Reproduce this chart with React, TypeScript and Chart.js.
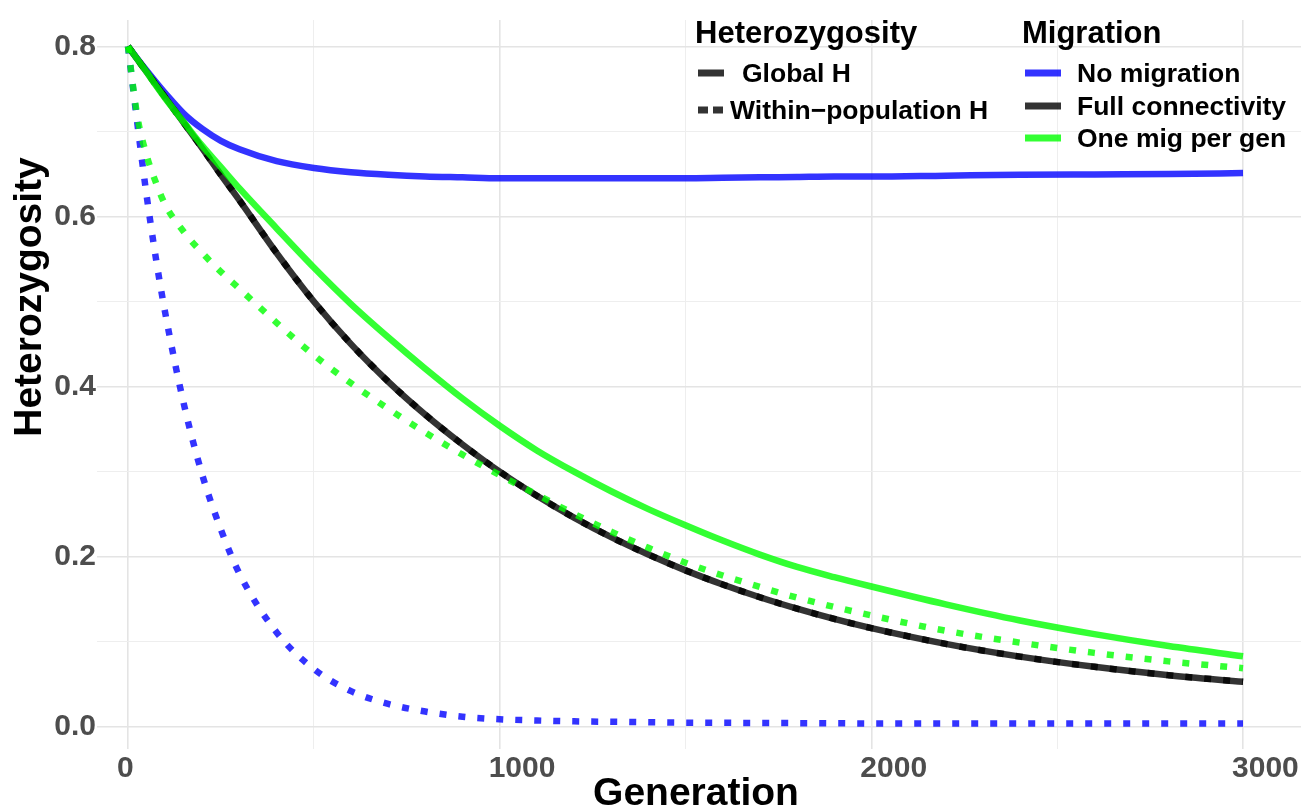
import React, { useEffect, useRef } from "react";
import { Chart, registerables } from "chart.js";

Chart.register(...registerables);

// ---- data ----
const GENERATIONS = [0, 25, 50, 75, 100, 150, 200, 250, 300, 400, 500, 600, 700, 800, 900, 1000, 1100, 1200, 1300, 1400, 1500, 1600, 1700, 1800, 1900, 2000, 2200, 2400, 2600, 2800, 3000];

const NO_MIG_GLOBAL = [0.8, 0.7855, 0.7715, 0.758, 0.745, 0.721, 0.703, 0.689, 0.679, 0.665, 0.657, 0.652, 0.649, 0.647, 0.646, 0.645, 0.645, 0.645, 0.645, 0.645, 0.645, 0.6455, 0.646, 0.6465, 0.647, 0.647, 0.648, 0.649, 0.6495, 0.65, 0.651];
const NO_MIG_WITHIN = [0.8, 0.71, 0.625, 0.551, 0.487, 0.38, 0.296, 0.232, 0.18, 0.111, 0.068, 0.042, 0.027, 0.018, 0.012, 0.009, 0.0075, 0.0065, 0.006, 0.0055, 0.005, 0.0048, 0.0046, 0.0044, 0.0042, 0.004, 0.004, 0.004, 0.004, 0.004, 0.004];
const FULL_GLOBAL = [0.8, 0.785, 0.77, 0.755, 0.74, 0.71, 0.68, 0.649, 0.619, 0.557, 0.5, 0.45, 0.406, 0.367, 0.332, 0.3, 0.2716, 0.246, 0.223, 0.2026, 0.184, 0.1674, 0.1524, 0.139, 0.1269, 0.1161, 0.0976, 0.0826, 0.0706, 0.0608, 0.053];
const FULL_WITHIN = [0.8, 0.785, 0.77, 0.755, 0.74, 0.71, 0.68, 0.649, 0.619, 0.557, 0.5, 0.45, 0.406, 0.367, 0.332, 0.3, 0.2716, 0.246, 0.223, 0.2026, 0.184, 0.1674, 0.1524, 0.139, 0.1269, 0.1161, 0.0976, 0.0826, 0.0706, 0.0608, 0.053];
const ONE_MIG_GLOBAL = [0.8, 0.785, 0.77, 0.754, 0.739, 0.711, 0.683, 0.658, 0.633, 0.586, 0.54, 0.497, 0.458, 0.421, 0.386, 0.354, 0.325, 0.3, 0.277, 0.256, 0.237, 0.219, 0.2025, 0.188, 0.176, 0.165, 0.144, 0.125, 0.109, 0.095, 0.083];
const ONE_MIG_WITHIN = [0.8, 0.718, 0.672, 0.64, 0.614, 0.582, 0.557, 0.535, 0.515, 0.475, 0.437, 0.404, 0.374, 0.346, 0.32, 0.296, 0.273, 0.2505, 0.2295, 0.2105, 0.193, 0.178, 0.1645, 0.152, 0.141, 0.131, 0.113, 0.099, 0.087, 0.077, 0.069];

const X_GRID = [0, 500, 1000, 1500, 2000, 2500, 3000];
const X_LABELS = [0, 1000, 2000, 3000];
const Y_GRID = [0, 0.1, 0.2, 0.3, 0.4, 0.5, 0.6, 0.7, 0.8];
const Y_LABELS = [0, 0.2, 0.4, 0.6, 0.8];

const HET_LEGEND = ["Global H", "Within\u2212population H"];
const MIG_LEGEND = ["No migration", "Full connectivity", "One mig per gen"];

// ---- styles ----
const BLUE = "rgba(0,0,255,0.8)";
const BLACK = "rgba(0,0,0,0.8)";
const GREEN = "rgba(0,255,0,0.8)";
const FONT = "'Liberation Sans', Arial, Helvetica, sans-serif";
const DOT = [7, 12];
const LW = 6.5;

const isIn = (arr: number[], v: number) => arr.some((a) => Math.abs(a - v) < 1e-6);

const overlay = {
  id: "overlay",
  afterDraw(chart: any) {
    const ctx = chart.ctx as CanvasRenderingContext2D;
    ctx.save();
    // axis titles
    ctx.fillStyle = "#000";
    ctx.font = `bold 39px ${FONT}`;
    ctx.textAlign = "center";
    ctx.textBaseline = "alphabetic";
    ctx.fillText("Generation", 696, 805);
    ctx.save();
    ctx.translate(41, 297);
    ctx.rotate(-Math.PI / 2);
    ctx.fillText("Heterozygosity", 0, 0);
    ctx.restore();

    // legend titles
    ctx.textAlign = "left";
    ctx.font = `bold 31px ${FONT}`;
    ctx.fillText("Heterozygosity", 695, 43);
    ctx.fillText("Migration", 1022, 43);

    // legend: heterozygosity (linetype)
    ctx.font = `bold 26.5px ${FONT}`;
    ctx.lineCap = "butt";
    ctx.lineWidth = 7;
    ctx.strokeStyle = BLACK;
    ctx.setLineDash([]);
    ctx.beginPath();
    ctx.moveTo(698, 73);
    ctx.lineTo(724, 73);
    ctx.stroke();
    ctx.fillText(HET_LEGEND[0], 742, 82);
    ctx.setLineDash([10, 5]);
    ctx.beginPath();
    ctx.moveTo(698, 110);
    ctx.lineTo(723, 110);
    ctx.stroke();
    ctx.setLineDash([]);
    ctx.fillText(HET_LEGEND[1], 730, 119);

    // legend: migration (colour)
    const cols = [BLUE, BLACK, GREEN];
    const ys = [73, 106, 138];
    MIG_LEGEND.forEach((lab, i) => {
      ctx.strokeStyle = cols[i];
      ctx.beginPath();
      ctx.moveTo(1025, ys[i]);
      ctx.lineTo(1061, ys[i]);
      ctx.stroke();
      ctx.fillText(lab, 1077, ys[i] + 9);
    });
    ctx.restore();
  },
};

const series = (label: string, values: number[], color: string, dotted: boolean) => ({
  label,
  data: GENERATIONS.map((g, i) => ({ x: g, y: values[i] })),
  borderColor: color,
  backgroundColor: color,
  borderWidth: LW,
  borderDash: dotted ? DOT : [],
  borderCapStyle: "butt" as const,
  pointRadius: 0,
  cubicInterpolationMode: "monotone" as const,
  fill: false,
});

export default function App() {
  const ref = useRef<HTMLCanvasElement | null>(null);
  useEffect(() => {
    if (!ref.current) return;
    const chart = new Chart(ref.current, {
      type: "line",
      data: {
        datasets: [
          series("One mig per gen – Within-population H", ONE_MIG_WITHIN, GREEN, true),
          series("One mig per gen – Global H", ONE_MIG_GLOBAL, GREEN, false),
          series("Full connectivity – Within-population H", FULL_WITHIN, BLACK, true),
          series("Full connectivity – Global H", FULL_GLOBAL, BLACK, false),
          series("No migration – Within-population H", NO_MIG_WITHIN, BLUE, true),
          series("No migration – Global H", NO_MIG_GLOBAL, BLUE, false),
        ],
      },
      options: {
        animation: false,
        responsive: true,
        maintainAspectRatio: false,
        events: [],
        layout: { padding: { top: 20, left: 0, right: 0, bottom: 0 } },
        plugins: { legend: { display: false }, tooltip: { enabled: false }, title: { display: false } },
        scales: {
          x: {
            type: "linear",
            min: -83.4,
            max: 3156,
            afterBuildTicks: (s: any) => {
              s.ticks = X_GRID.map((v) => ({ value: v }));
            },
            afterFit: (s: any) => {
              s.height = 61;
              s.paddingLeft = 0;
              s.paddingRight = 0;
            },
            border: { display: false },
            grid: {
              drawTicks: false,
              color: (c: any) => (isIn(X_LABELS, c.tick?.value) ? "#e4e4e4" : "#eeeeee"),
              lineWidth: (c: any) => (isIn(X_LABELS, c.tick?.value) ? 1.6 : 1),
            },
            ticks: {
              autoSkip: false,
              maxRotation: 0,
              minRotation: 0,
              align: "start",
              labelOffset: -11,
              padding: 2,
              color: "#4d4d4d",
              font: { family: FONT, size: 30, weight: "bold" },
              callback: (v: any) => (isIn(X_LABELS, Number(v)) ? String(Math.round(Number(v))) : ""),
            },
          },
          y: {
            type: "linear",
            min: -0.026,
            max: 0.831,
            afterBuildTicks: (s: any) => {
              s.ticks = Y_GRID.map((v) => ({ value: v }));
            },
            afterFit: (s: any) => {
              s.width = 97;
              s.paddingTop = 0;
              s.paddingBottom = 0;
            },
            border: { display: false },
            grid: {
              drawTicks: false,
              color: (c: any) => (isIn(Y_LABELS, c.tick?.value) ? "#e4e4e4" : "#eeeeee"),
              lineWidth: (c: any) => (isIn(Y_LABELS, c.tick?.value) ? 1.6 : 1),
            },
            ticks: {
              autoSkip: false,
              padding: 1,
              color: "#4d4d4d",
              font: { family: FONT, size: 30, weight: "bold" },
              callback: (v: any) => (isIn(Y_LABELS, Number(v)) ? Number(v).toFixed(1) : ""),
            },
          },
        },
      },
      plugins: [overlay],
    } as any);
    return () => chart.destroy();
  }, []);

  return (
    <div style={{ position: "fixed", left: 0, top: 0, width: 1301, height: 810, background: "#fff" }}>
      <canvas ref={ref} />
    </div>
  );
}
